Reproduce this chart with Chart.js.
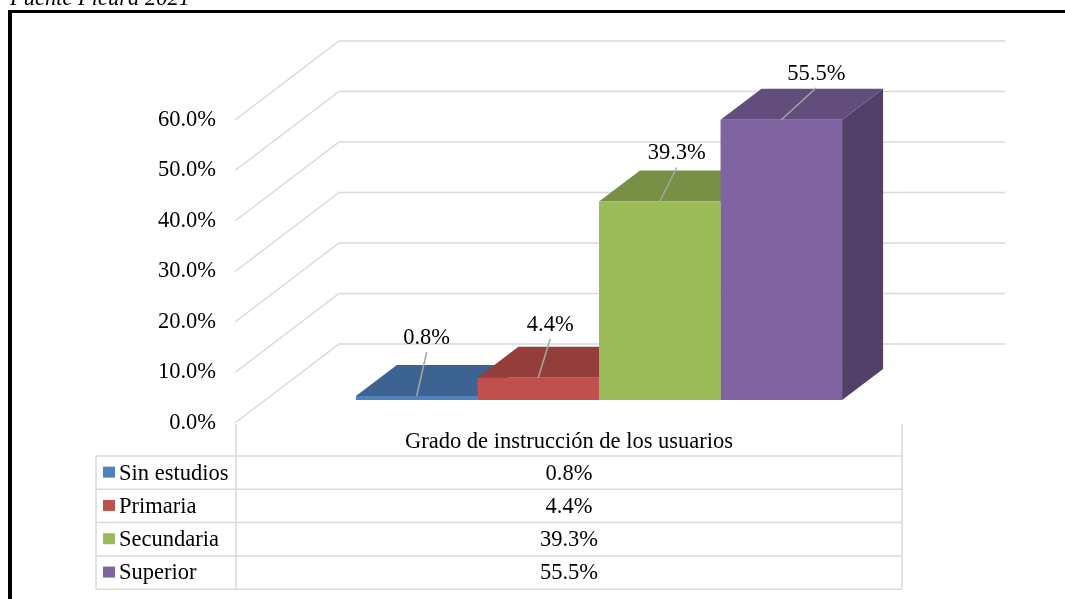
<!DOCTYPE html>
<html lang="es">
<head>
  <meta charset="UTF-8" />
  <title>Grado de instrucción de los usuarios</title>
  <script src="https://cdn.jsdelivr.net/npm/chart.js"></script>
  <style>
    body {
      margin: 0;
      background: #fff;
    }

    #contenedor {
      position: relative;
      width: 1065px;
      height: 599px;
    }
  </style>
</head>
<body>

  <div id="contenedor">
    <canvas id="grafico"></canvas>
  </div>

  <script>
    // datos
    const categoria = 'Grado de instrucción de los usuarios';
    const series = ['Sin estudios', 'Primaria', 'Secundaria', 'Superior'];
    const valores = [0.8, 4.4, 39.3, 55.5];
    const ticksY = [0, 10, 20, 30, 40, 50, 60];
    const fuente = 'Fuente Ficura 2021';

    // estilo
    const colores = ['#4F81BD', '#C0504D', '#9BBB59', '#8064A2'];
    const letra = '"Liberation Serif", "Times New Roman", serif';
    const tamLetra = 22.5;
    const fondo = { dx: 104, dy: -79 };      // profundidad del piso
    const frente = { dx: 31, dy: -23 };      // donde empiezan las barras
    const prof = { dx: 41, dy: -31 };        // profundidad de cada barra
    const ajusteEtiqueta = [[10, -59], [12, -54], [17, -49], [35, -47]];

    function oscurecer(hex, f) {
      const n = parseInt(hex.slice(1), 16);
      const r = Math.round(((n >> 16) & 255) * f);
      const g = Math.round(((n >> 8) & 255) * f);
      const b = Math.round((n & 255) * f);
      return `rgb(${r},${g},${b})`;
    }

    const cubo3d = {
      id: 'cubo3d',
      beforeDraw(chart) {
        const ctx = chart.ctx;
        ctx.save();
        // marco negro y texto cortado arriba
        ctx.fillStyle = '#000';
        ctx.fillRect(8, 10, 4, 589);
        ctx.fillRect(8, 10, 1057, 3);
        ctx.font = `italic ${tamLetra}px ${letra}`;
        ctx.textBaseline = 'alphabetic';
        ctx.fillText(fuente, 10, 5);
        ctx.restore();
      },
      beforeDatasetsDraw(chart) {
        const { ctx, chartArea: a, scales: { y } } = chart;
        ctx.save();
        ctx.strokeStyle = '#d9d9d9';
        ctx.lineWidth = 1.5;
        ticksY.forEach(v => {
          const py = y.getPixelForValue(v);
          ctx.beginPath();
          ctx.moveTo(a.left, py);
          ctx.lineTo(a.left + fondo.dx, py + fondo.dy);
          ctx.lineTo(a.right + fondo.dx, py + fondo.dy);
          ctx.stroke();
        });
        ctx.restore();

        // caras superior y lateral, luego el frente lo dibuja Chart.js
        ctx.save();
        ctx.translate(frente.dx, frente.dy);
        chart.data.datasets.forEach((ds, i) => {
          const bar = chart.getDatasetMeta(i).data[0];
          const L = bar.x - bar.width / 2;
          const R = bar.x + bar.width / 2;
          const T = bar.y;
          const B = bar.base;
          ctx.fillStyle = oscurecer(colores[i], 0.77);
          ctx.beginPath();
          ctx.moveTo(L, T);
          ctx.lineTo(L + prof.dx, T + prof.dy);
          ctx.lineTo(R + prof.dx, T + prof.dy);
          ctx.lineTo(R, T);
          ctx.closePath();
          ctx.fill();
          ctx.fillStyle = oscurecer(colores[i], 0.64);
          ctx.beginPath();
          ctx.moveTo(R, T);
          ctx.lineTo(R + prof.dx, T + prof.dy);
          ctx.lineTo(R + prof.dx, B + prof.dy);
          ctx.lineTo(R, B);
          ctx.closePath();
          ctx.fill();
        });
      },
      afterDatasetsDraw(chart) {
        const ctx = chart.ctx;
        ctx.restore();
        ctx.save();
        ctx.font = `${tamLetra}px ${letra}`;
        ctx.textAlign = 'center';
        ctx.textBaseline = 'middle';
        chart.data.datasets.forEach((ds, i) => {
          const bar = chart.getDatasetMeta(i).data[0];
          const cx = bar.x + frente.dx;
          const cy = bar.y + frente.dy;
          const lx = cx + ajusteEtiqueta[i][0];
          const ly = cy + ajusteEtiqueta[i][1];
          ctx.strokeStyle = '#a6a6a6';
          ctx.lineWidth = 1.5;
          ctx.beginPath();
          ctx.moveTo(lx, ly + 15);
          ctx.lineTo(cx, cy);
          ctx.stroke();
          ctx.fillStyle = '#000';
          ctx.fillText(ds.data[0].toFixed(1) + '%', lx, ly + 1);
        });
        ctx.restore();
      },
      afterDraw(chart) {
        // tabla de datos bajo el gráfico
        const { ctx, chartArea: a } = chart;
        const izq = 96;
        const c1 = a.left + 1;
        const c2 = a.right + 1;
        const topCab = 424;
        const top = 456;
        const alto = 33.3;
        ctx.save();
        ctx.strokeStyle = '#d9d9d9';
        ctx.lineWidth = 1.5;
        ctx.beginPath();
        ctx.moveTo(c1, topCab); ctx.lineTo(c1, top);
        ctx.moveTo(c2, topCab); ctx.lineTo(c2, top);
        for (let r = 0; r <= series.length; r++) {
          ctx.moveTo(izq, top + r * alto);
          ctx.lineTo(c2, top + r * alto);
        }
        const fin = top + series.length * alto;
        [izq, c1, c2].forEach(x => { ctx.moveTo(x, top); ctx.lineTo(x, fin); });
        ctx.stroke();

        ctx.font = `${tamLetra}px ${letra}`;
        ctx.fillStyle = '#000';
        ctx.textBaseline = 'middle';
        ctx.textAlign = 'center';
        ctx.fillText(categoria, (c1 + c2) / 2, 442);
        series.forEach((s, r) => {
          const my = top + r * alto + alto / 2;
          ctx.fillStyle = colores[r];
          ctx.fillRect(103, my - 6, 12, 11);
          ctx.fillStyle = '#000';
          ctx.textAlign = 'left';
          ctx.fillText(s, 119, my + 1);
          ctx.textAlign = 'center';
          ctx.fillText(valores[r].toFixed(1) + '%', (c1 + c2) / 2, my + 1);
        });
        ctx.restore();
      }
    };

    const ctx = document.getElementById('grafico').getContext('2d');
    new Chart(ctx, {
      type: 'bar',
      data: {
        labels: [categoria],
        datasets: series.map((s, i) => ({
          label: s,
          data: [valores[i]],
          backgroundColor: colores[i],
          borderWidth: 0
        }))
      },
      options: {
        responsive: true,
        maintainAspectRatio: false,
        animation: false,
        events: [],
        layout: {
          padding: { top: 120, right: 164, bottom: 176, left: 0 }
        },
        datasets: {
          bar: { barPercentage: 1, categoryPercentage: 0.73 }
        },
        plugins: {
          legend: { display: false },
          tooltip: { enabled: false }
        },
        scales: {
          x: { display: false },
          y: {
            min: 0,
            max: 60,
            afterBuildTicks: scale => {
              scale.ticks = ticksY.map(v => ({ value: v }));
            },
            afterFit: scale => {
              scale.width = 235;
            },
            grid: { display: false, drawTicks: false },
            border: { display: false },
            ticks: {
              padding: 19,
              color: '#000',
              font: { family: letra, size: tamLetra },
              callback: v => v.toFixed(1) + '%'
            }
          }
        }
      },
      plugins: [cubo3d]
    });
  </script>

</body>
</html>
